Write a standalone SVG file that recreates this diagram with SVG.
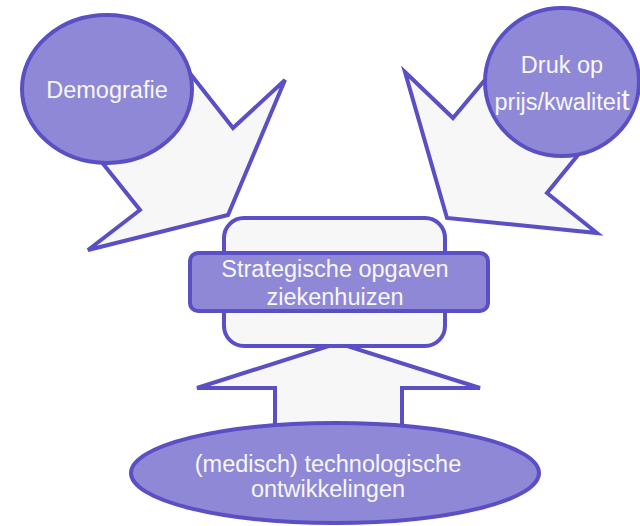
<svg xmlns="http://www.w3.org/2000/svg" width="640" height="526" viewBox="0 0 640 526">
<style>
.arr{fill:#f7f7f7;stroke:#5a4fc4;stroke-width:4;stroke-linejoin:miter}
.node{fill:#8f88d6;stroke:#5a4fc4;stroke-width:4}
.box{fill:#f7f7f7;stroke:#5a4fc4;stroke-width:4}
text{font-family:"Liberation Sans",Arial,sans-serif;font-size:23.5px;fill:#f7f7f7;text-anchor:middle}
</style>
<rect width="640" height="526" fill="#ffffff"/>
<g id="connectors">
<polygon class="arr" points="170,48 233,128 285,80 228,215 88,250 140,210 80,135"/>
<polygon class="arr" points="405,72 453,118 510,50 600,128 547,193 597,233 447,218"/>
<polygon class="arr" points="275,440 275,388 197,388 338,343 480,388 402,388 402,440"/>
</g>
<g id="demografie">
<ellipse class="node" cx="107" cy="89" rx="85" ry="74"/>
<text x="107" y="98">Demografie</text>
</g>
<g id="druk">
<ellipse class="node" cx="562" cy="82" rx="77" ry="74"/>
<text x="562" y="73">Druk op</text>
<text x="562" y="110">prijs/kwalitei<tspan font-size="30px">t</tspan></text>
</g>
<g id="strategische">
<rect class="box" x="224" y="218" width="221" height="128" rx="20"/>
<rect class="node" x="190" y="253" width="298" height="58" rx="8"/>
<text x="335" y="277">Strategische opgaven</text>
<text x="335" y="305">ziekenhuizen</text>
</g>
<g id="technologie">
<ellipse class="node" cx="335" cy="473" rx="204" ry="50"/>
<text x="328" y="472">(medisch) technologische</text>
<text x="328" y="497">ontwikkelingen</text>
</g>
</svg>
